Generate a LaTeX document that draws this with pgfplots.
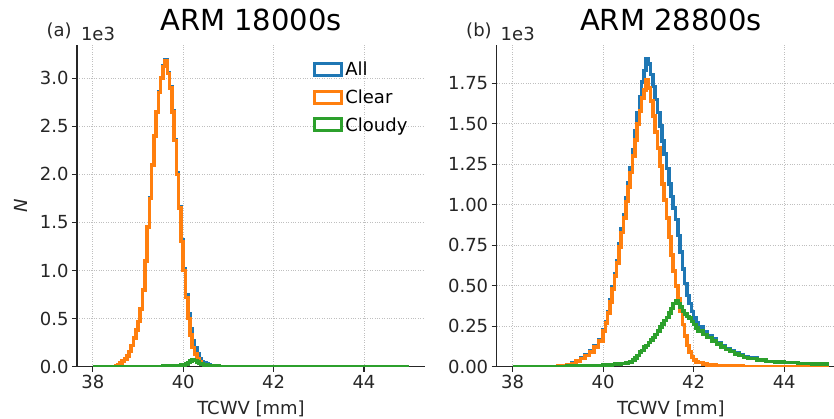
\documentclass[border=0pt]{standalone}
\usepackage{pgfplots}
\pgfplotsset{compat=1.18}
\usepackage{pgfplotstable}
\usepackage{fontspec}
\setmainfont{DejaVu Sans}
\definecolor{c0}{HTML}{1F77B4}
\definecolor{c1}{HTML}{FF7F0E}
\definecolor{c2}{HTML}{2CA02C}
\definecolor{spine}{HTML}{262626}

% ARM 18000s (values in units of 1e3)
\pgfplotstableread{
x clear cloudy all
38.00 0 0 0
38.45 0.002 0 0.002
38.50 0.01 0 0.01
38.55 0.02 0 0.02
38.60 0.04 0 0.04
38.65 0.06 0 0.06
38.70 0.08 0 0.08
38.75 0.11 0 0.11
38.80 0.16 0 0.16
38.85 0.22 0 0.22
38.90 0.30 0 0.30
38.95 0.38 0 0.38
39.00 0.47 0.001 0.471
39.05 0.60 0.001 0.601
39.10 0.80 0.001 0.801
39.15 1.10 0.002 1.102
39.20 1.45 0.002 1.452
39.25 1.75 0.002 1.752
39.30 2.10 0.003 2.103
39.35 2.40 0.003 2.403
39.40 2.65 0.003 2.653
39.45 2.85 0.004 2.854
39.50 3.00 0.004 3.004
39.55 3.12 0.005 3.125
39.60 3.18 0.006 3.186
39.65 3.05 0.007 3.057
39.70 2.90 0.008 2.908
39.75 2.65 0.009 2.659
39.80 2.35 0.01 2.36
39.85 2.00 0.012 2.012
39.90 1.65 0.013 1.663
39.95 1.30 0.016 1.316
40.00 1.00 0.02 1.02
40.05 0.72 0.03 0.75
40.10 0.50 0.045 0.545
40.15 0.33 0.06 0.39
40.20 0.20 0.07 0.27
40.25 0.13 0.065 0.195
40.30 0.08 0.05 0.13
40.35 0.05 0.035 0.085
40.40 0.03 0.025 0.055
40.45 0.02 0.02 0.04
40.50 0.01 0.015 0.025
40.55 0.005 0.012 0.017
40.60 0.002 0.01 0.012
40.70 0 0.005 0.005
40.80 0 0.002 0.002
40.90 0 0 0
45.00 0 0 0
}\lefttab

% ARM 28800s (values in units of 1e3)
\pgfplotstableread{
x clear cloudy all
38.00 0 0 0
39.00 0.005 0.002 0.007
39.20 0.01 0.003 0.013
39.30 0.02 0.003 0.023
39.40 0.035 0.003 0.038
39.50 0.05 0.004 0.054
39.60 0.07 0.005 0.075
39.70 0.09 0.006 0.096
39.80 0.12 0.007 0.127
39.90 0.16 0.008 0.168
40.00 0.22 0.009 0.229
40.05 0.27 0.01 0.28
40.10 0.33 0.011 0.341
40.15 0.40 0.012 0.412
40.20 0.48 0.013 0.493
40.25 0.56 0.015 0.575
40.30 0.64 0.016 0.656
40.35 0.74 0.018 0.758
40.40 0.83 0.019 0.849
40.45 0.92 0.02 0.94
40.50 1.02 0.022 1.042
40.55 1.11 0.026 1.136
40.60 1.20 0.03 1.23
40.65 1.30 0.04 1.34
40.70 1.40 0.055 1.455
40.75 1.50 0.07 1.57
40.80 1.58 0.09 1.67
40.85 1.66 0.10 1.76
40.90 1.71 0.12 1.83
40.95 1.77 0.13 1.90
41.00 1.72 0.15 1.87
41.05 1.64 0.165 1.805
41.10 1.55 0.18 1.73
41.15 1.45 0.20 1.65
41.20 1.35 0.22 1.57
41.25 1.24 0.245 1.485
41.30 1.13 0.265 1.395
41.35 1.03 0.285 1.315
41.40 0.92 0.305 1.225
41.45 0.80 0.33 1.13
41.50 0.69 0.36 1.05
41.55 0.59 0.39 0.98
41.60 0.50 0.41 0.91
41.65 0.42 0.39 0.81
41.70 0.34 0.37 0.71
41.75 0.26 0.345 0.605
41.80 0.19 0.325 0.515
41.85 0.13 0.31 0.44
41.90 0.09 0.30 0.39
41.95 0.06 0.28 0.34
42.00 0.04 0.26 0.30
42.05 0.03 0.24 0.27
42.10 0.025 0.22 0.245
42.20 0.015 0.20 0.215
42.30 0.012 0.18 0.192
42.40 0.01 0.16 0.17
42.50 0.008 0.14 0.148
42.60 0.006 0.12 0.126
42.70 0.005 0.105 0.11
42.80 0.004 0.093 0.097
42.90 0.003 0.08 0.083
43.00 0.003 0.068 0.071
43.10 0.002 0.058 0.06
43.20 0.002 0.05 0.052
43.40 0.001 0.04 0.041
43.60 0.001 0.032 0.033
43.80 0 0.028 0.028
44.00 0 0.025 0.025
44.30 0 0.02 0.02
44.60 0 0.017 0.017
44.90 0 0.015 0.015
45.00 0 0.015 0.015
}\righttab

\pgfplotsset{
  histax/.style={
    scale only axis, height=321.7pt, ymin=0, xmin=37.65,
    axis lines*=left, axis line style={spine, line width=1.1pt, -},
    tick align=outside, major tick length=5pt,
    tick style={spine, line width=1.1pt},
    grid=major, major grid style={dotted, gray!50, line width=0.9pt},
    xtick={38,40,42,44},
    ticklabel style={font=\fontsize{18}{21}\selectfont, text=spine},
    /pgf/number format/assume math mode=true,
    scaled y ticks=false,
    clip mode=individual,
    xlabel={TCWV [mm]},
    xlabel style={font=\fontsize{18}{21}\selectfont, text=spine, at={(axis description cs:0.5,0)}, anchor=base, yshift=-48pt},
    title style={font=\fontsize{29}{34}\selectfont, anchor=base, yshift=8pt},
  },
  hst/.style={line width=3.6pt, const plot, forget plot},
}

\begin{document}
\begin{tikzpicture}
\begin{axis}[histax,
  at={(77pt,52.3pt)}, anchor=south west,
  width=348pt, xmax=45.35, ymax=3.345,
  ytick={0,0.5,1,1.5,2,2.5,3},
  yticklabel style={/pgf/number format/.cd, fixed, fixed zerofill, precision=1},
  title={ARM 18000s},
  ylabel={\itshape N},
  ylabel style={font=\fontsize{18}{21}\selectfont, text=spine, at={(axis description cs:0,0.5)}, anchor=center, yshift=56.5pt},
  legend style={at={(rel axis cs:0.67,0.96)}, anchor=north west, draw=none, fill=none,
    font=\fontsize{18}{21}\selectfont, row sep=8.5pt},
  legend cell align=left,
]
\addplot[c0, hst] table[x=x, y=all]{\lefttab};
\addplot[c1, hst] table[x=x, y=clear]{\lefttab};
\addplot[c2, hst] table[x=x, y=cloudy]{\lefttab};
\addlegendimage{legend image code/.code={\draw[c0, line width=3pt, fill=white] (0pt,-6pt) rectangle (27pt,6pt);}}
\addlegendentry{All}
\addlegendimage{legend image code/.code={\draw[c1, line width=3pt, fill=white] (0pt,-6pt) rectangle (27pt,6pt);}}
\addlegendentry{Clear}
\addlegendimage{legend image code/.code={\draw[c2, line width=3pt, fill=white] (0pt,-6pt) rectangle (27pt,6pt);}}
\addlegendentry{Cloudy}
\node[anchor=base west, font=\fontsize{18}{21}\selectfont, text=spine, xshift=-34pt, yshift=8pt] at (rel axis cs:0,1) {(a)};
\node[anchor=base west, font=\fontsize{18}{21}\selectfont, text=spine, xshift=0.5pt, yshift=4pt] at (rel axis cs:0,1) {1e3};
\end{axis}

\begin{axis}[histax,
  at={(496.7pt,52.3pt)}, anchor=south west,
  width=337.3pt, xmax=45.1, ymax=1.987,
  ytick={0,0.25,0.5,0.75,1,1.25,1.5,1.75},
  yticklabel style={/pgf/number format/.cd, fixed, fixed zerofill, precision=2},
  title={ARM 28800s},
  title style={at={(axis description cs:0.5165,1)}},
  xlabel style={at={(axis description cs:0.5165,0)}},
]
\addplot[c0, hst] table[x=x, y=all]{\righttab};
\addplot[c1, hst] table[x=x, y=clear]{\righttab};
\addplot[c2, hst] table[x=x, y=cloudy]{\righttab};
\node[anchor=base west, font=\fontsize{18}{21}\selectfont, text=spine, xshift=-34pt, yshift=8pt] at (rel axis cs:0,1) {(b)};
\node[anchor=base west, font=\fontsize{18}{21}\selectfont, text=spine, xshift=0.5pt, yshift=4pt] at (rel axis cs:0,1) {1e3};
\end{axis}
\pgfresetboundingbox
\path (0pt,0pt) rectangle (834pt,419pt);
\end{tikzpicture}
\end{document}
